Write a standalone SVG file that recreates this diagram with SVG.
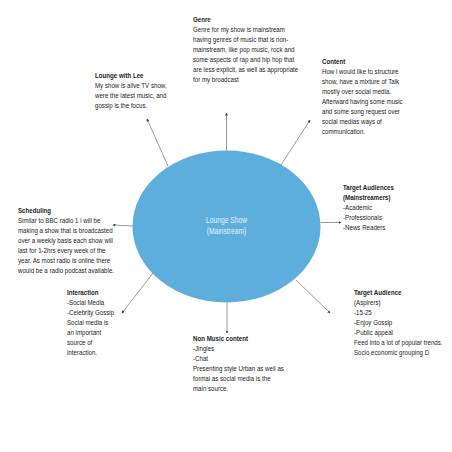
<svg xmlns="http://www.w3.org/2000/svg" width="452" height="452" viewBox="0 0 452 452">
<defs>
<style>
.t{font-family:"Liberation Sans",Arial,sans-serif;font-size:7.6px;fill:#222}
.b{font-weight:bold}
.c{font-family:"Liberation Sans",Arial,sans-serif;font-size:8.2px;fill:#e3f1fa;text-anchor:middle}
.ln{stroke:#6e6e6e;stroke-width:0.7;fill:none;marker-end:url(#ah)}
</style>
<marker id="ah" viewBox="0 0 6 6" refX="5" refY="3" markerWidth="3" markerHeight="3" markerUnits="userSpaceOnUse" orient="auto">
<path d="M0,0 L6,3 L0,6 z" fill="#444"/>
</marker>
</defs>
<rect width="452" height="452" fill="#fff"/>
<g id="connectors">
<line class="ln" x1="226.5" y1="151" x2="226.5" y2="113"/>
<line class="ln" x1="281" y1="165" x2="310" y2="120"/>
<line class="ln" x1="168" y1="166" x2="147" y2="119"/>
<line class="ln" x1="132.5" y1="226" x2="113" y2="225"/>
<line class="ln" x1="320.5" y1="222.5" x2="341" y2="222.5"/>
<line class="ln" x1="296" y1="280" x2="330" y2="313"/>
<line class="ln" x1="227" y1="302" x2="227" y2="333"/>
<line class="ln" x1="153" y1="273" x2="122" y2="313"/>
</g>
<g id="center">
<ellipse cx="226.5" cy="226.5" rx="94" ry="76" fill="#5eaedd"/>
<g transform="matrix(0.82,0,0,1,226.5,0)">
<text class="c" x="0" y="223">Lounge Show</text>
<text class="c" x="0" y="234">(Mainstream)</text>
</g>
</g>
<g id="genre" transform="matrix(0.81,0,0,1,193,0)">
<text class="t b" x="0" y="22">Genre</text>
<text class="t" x="0" y="32">Genre for my show is mainstream</text>
<text class="t" x="0" y="42">having genres of music that is non-</text>
<text class="t" x="0" y="52">mainstream, like pop music, rock and</text>
<text class="t" x="0" y="62">some aspects of rap and hip hop that</text>
<text class="t" x="0" y="72">are less explicit, as well as appropriate</text>
<text class="t" x="0" y="82">for my broadcast</text>
</g>
<g id="content" transform="matrix(0.81,0,0,1,322,0)">
<text class="t b" x="0" y="64">Content</text>
<text class="t" x="0" y="74">How i would like to structure</text>
<text class="t" x="0" y="84">show, have a mixture of Talk</text>
<text class="t" x="0" y="94">mostly over social media.</text>
<text class="t" x="0" y="104">Afterward having some music</text>
<text class="t" x="0" y="114">and some song request over</text>
<text class="t" x="0" y="124">social medias ways of</text>
<text class="t" x="0" y="134">communication.</text>
</g>
<g id="lounge-with-lee" transform="matrix(0.81,0,0,1,95,0)">
<text class="t b" x="0" y="78">Lounge with Lee</text>
<text class="t" x="0" y="88">My show is alive TV show,</text>
<text class="t" x="0" y="98">were the latest music, and</text>
<text class="t" x="0" y="108">gossip is the focus.</text>
</g>
<g id="scheduling" transform="matrix(0.81,0,0,1,18,0)">
<text class="t b" x="0" y="213">Scheduling</text>
<text class="t" x="0" y="223">Similar to BBC radio 1 i will be</text>
<text class="t" x="0" y="233">making a show that is broadcasted</text>
<text class="t" x="0" y="243">over a weekly basis each show will</text>
<text class="t" x="0" y="253">last for 1-2hrs every week of the</text>
<text class="t" x="0" y="263">year. As most radio is online  there</text>
<text class="t" x="0" y="273">would be a radio podcast available.</text>
</g>
<g id="target-mainstream" transform="matrix(0.81,0,0,1,343,0)">
<text class="t b" x="0" y="190">Target Audiences</text>
<text class="t b" x="0" y="200">(Mainstreamers)</text>
<text class="t" x="0" y="210">-Academic</text>
<text class="t" x="0" y="220">-Professionals</text>
<text class="t" x="0" y="230">-News Readers</text>
</g>
<g id="target-aspirers" transform="matrix(0.81,0,0,1,354,0)">
<text class="t b" x="0" y="295">Target Audience</text>
<text class="t" x="0" y="305">(Aspirers)</text>
<text class="t" x="0" y="315">-15-25</text>
<text class="t" x="0" y="325">-Enjoy Gossip</text>
<text class="t" x="0" y="335">-Public appeal</text>
<text class="t" x="0" y="345">Feed into a lot of popular trends.</text>
<text class="t" x="0" y="355">Socio economic grouping D</text>
</g>
<g id="interaction" transform="matrix(0.81,0,0,1,67,0)">
<text class="t b" x="0" y="295">Interaction</text>
<text class="t" x="0" y="305">-Social Media</text>
<text class="t" x="0" y="315">-Celebrity Gossip</text>
<text class="t" x="0" y="325">Social media is</text>
<text class="t" x="0" y="335">an important</text>
<text class="t" x="0" y="345">source of</text>
<text class="t" x="0" y="355">interaction.</text>
</g>
<g id="non-music" transform="matrix(0.81,0,0,1,193,0)">
<text class="t b" x="0" y="341">Non Music content</text>
<text class="t" x="0" y="351">-Jingles</text>
<text class="t" x="0" y="361">-Chat</text>
<text class="t" x="0" y="371">Presenting style Urban as well as</text>
<text class="t" x="0" y="381">formal as social media is the</text>
<text class="t" x="0" y="391">main source.</text>
</g>
</svg>
